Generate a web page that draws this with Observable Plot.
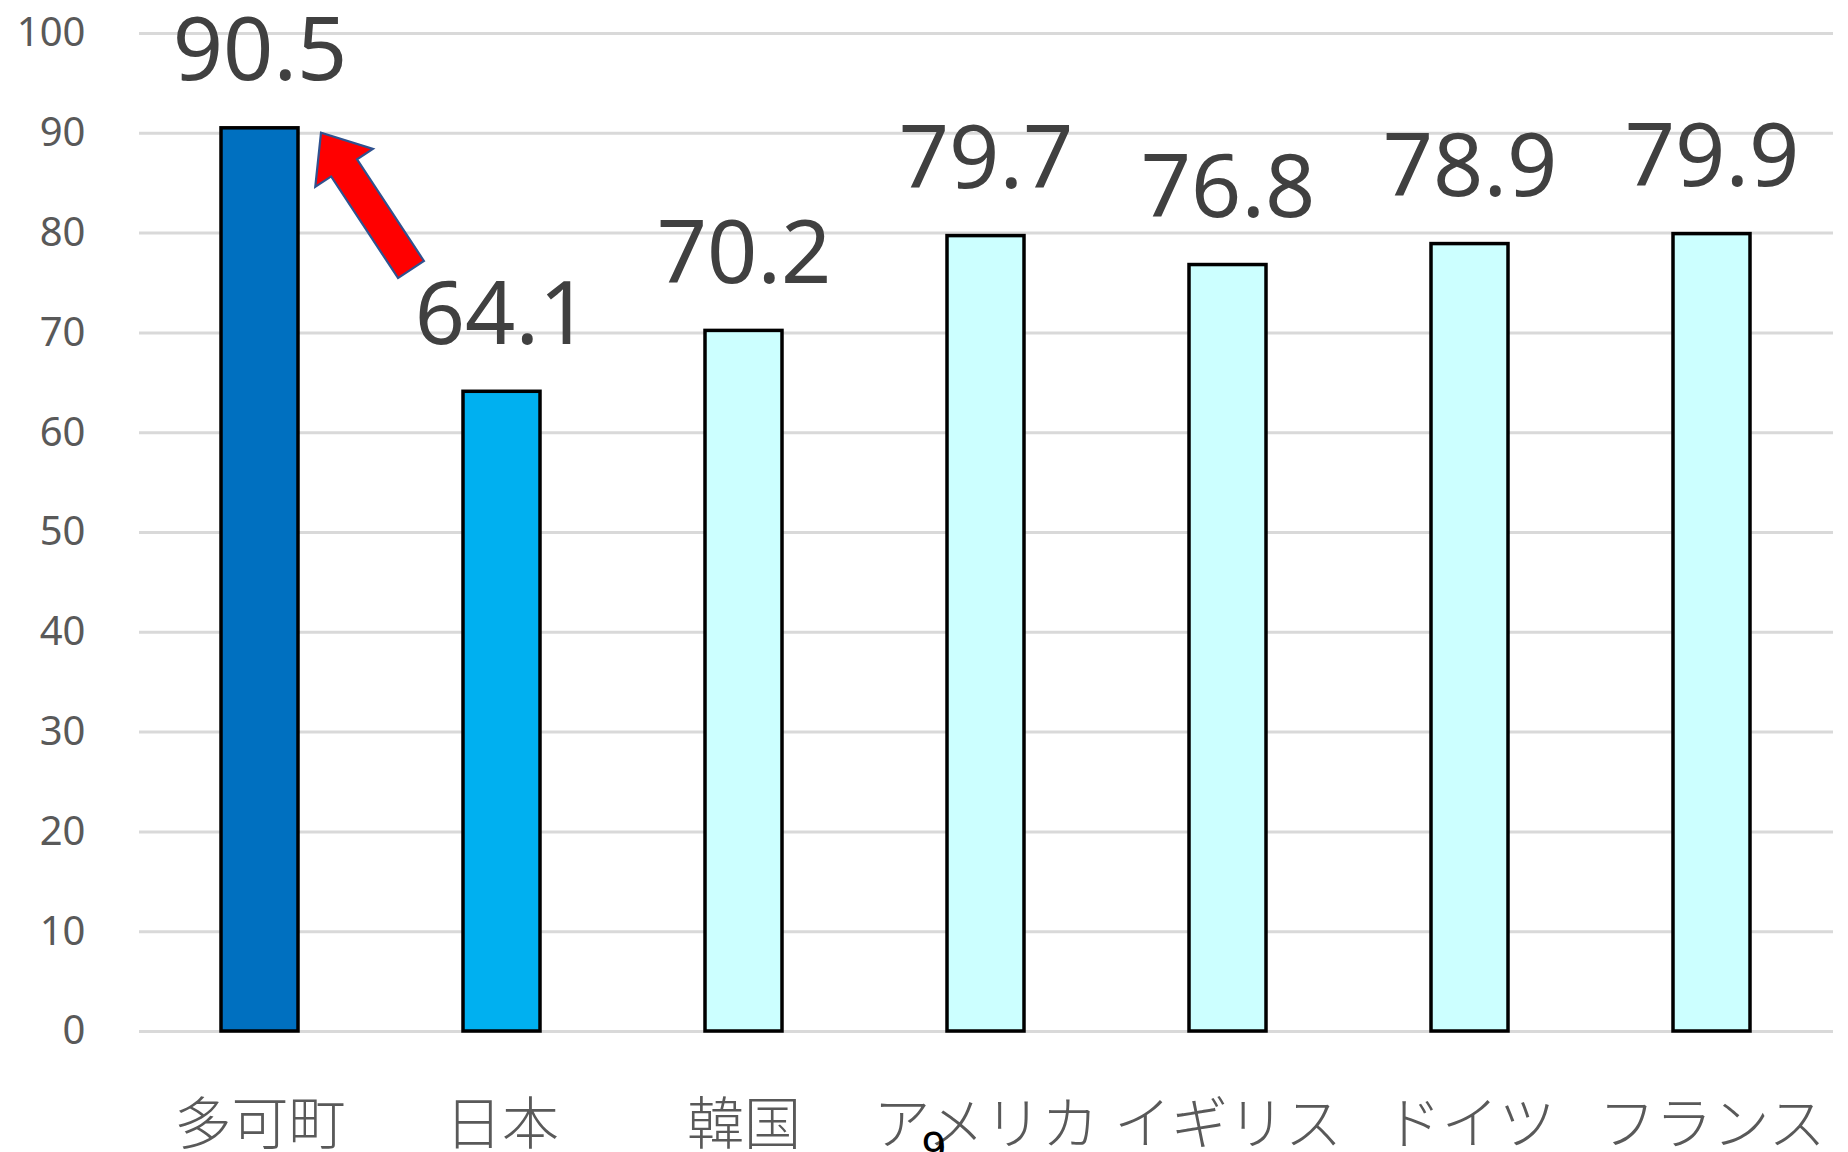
<!DOCTYPE html>
<html>
<head>
<meta charset="utf-8">
<script src="https://cdn.jsdelivr.net/npm/d3@7"></script>
<script src="https://cdn.jsdelivr.net/npm/@observablehq/plot@0.6"></script>
<style>
  html, body { margin: 0; padding: 0; background: #fff; }
  #chart { position: relative; width: 1848px; height: 1152px; overflow: hidden; }
</style>
</head>
<body>
<div id="chart"></div>
<script>
// ---- data ----
const categories = ["多可町", "日本", "韓国", "アメリカ", "イギリス", "ドイツ", "フランス"];
const values = [90.5, 64.1, 70.2, 79.7, 76.8, 78.9, 79.9];
const barColors = ["#0070C0", "#00B0F0", "#CCFFFF", "#CCFFFF", "#CCFFFF", "#CCFFFF", "#CCFFFF"];
const yTicks = [0, 10, 20, 30, 40, 50, 60, 70, 80, 90, 100];
// annotation arrow: from near 日本 to the top of 多可町
const arrowTail = ["日本", 76.3];
const arrowTip = ["多可町", 90.0];
const pageNumber = "9";

const rows = categories.map((c, i) => ({category: c, value: values[i], color: barColors[i]}));

function arrowMark(index, scales) {
  const x = scales.x, y = scales.y;
  const bw = x.bandwidth ? x.bandwidth() : 0;
  const tip = [x(arrowTip[0]) + bw + 23, y(arrowTip[1])];
  const tail = [x(arrowTail[0]) - 52, y(arrowTail[1])];
  const dx = tip[0] - tail[0], dy = tip[1] - tail[1];
  const L = Math.hypot(dx, dy);
  const d = [dx / L, dy / L], n = [-d[1], d[0]];
  const hw = 15.5, hh = 34.5, hl = 42;
  const base = [tip[0] - d[0] * hl, tip[1] - d[1] * hl];
  const pts = [
    [tail[0] + n[0] * hw, tail[1] + n[1] * hw],
    [base[0] + n[0] * hw, base[1] + n[1] * hw],
    [base[0] + n[0] * hh, base[1] + n[1] * hh],
    tip,
    [base[0] - n[0] * hh, base[1] - n[1] * hh],
    [base[0] - n[0] * hw, base[1] - n[1] * hw],
    [tail[0] - n[0] * hw, tail[1] - n[1] * hw]
  ];
  const g = d3.create("svg:g");
  g.append("polygon")
    .attr("points", pts.map(p => p.join(",")).join(" "))
    .attr("fill", "#FF0000")
    .attr("stroke", "#2F528F")
    .attr("stroke-width", 2.2)
    .attr("stroke-linejoin", "miter");
  return g.node();
}

const plot = Plot.plot({
  width: 1848,
  height: 1152,
  marginLeft: 139,
  marginRight: 15,
  marginTop: 33,
  marginBottom: 121,
  style: {fontFamily: "'Noto Sans', 'Noto Sans CJK JP', sans-serif", background: "#fff", overflow: "visible"},
  x: {domain: categories, paddingInner: 0.68, paddingOuter: 0.34, label: null},
  y: {domain: [0, 100], label: null},
  marks: [
    Plot.gridY(yTicks, {stroke: "#D9D9D9", strokeWidth: 3, strokeOpacity: 1}),
    Plot.axisY({ticks: yTicks, tickSize: 0, tickPadding: 54, fontSize: 40, fill: "#595959", label: null,
      fontFamily: "'Noto Sans', sans-serif"}),
    Plot.axisX({tickSize: 0, tickPadding: 72, fontSize: 57, fill: "#595959", label: null,
      fontFamily: "'Noto Sans CJK JP', sans-serif", fontWeight: 300}),
    Plot.barY(rows, {x: "category", y: "value", fill: "color", stroke: "#000", strokeWidth: 3.5}),
    Plot.text(rows, {x: "category", y: "value", text: d => d.value.toFixed(1), fontSize: 88,
      fill: "#404040", lineAnchor: "middle", dy: -76}),
    arrowMark
  ]
});

const svg = d3.select(plot);
svg.append("text")
  .attr("x", 934).attr("y", 1162)
  .attr("text-anchor", "middle")
  .attr("font-family", "'DejaVu Sans', sans-serif")
  .attr("font-size", 40)
  .attr("fill", "#000")
  .text(pageNumber);

document.getElementById("chart").appendChild(plot);
</script>
</body>
</html>
